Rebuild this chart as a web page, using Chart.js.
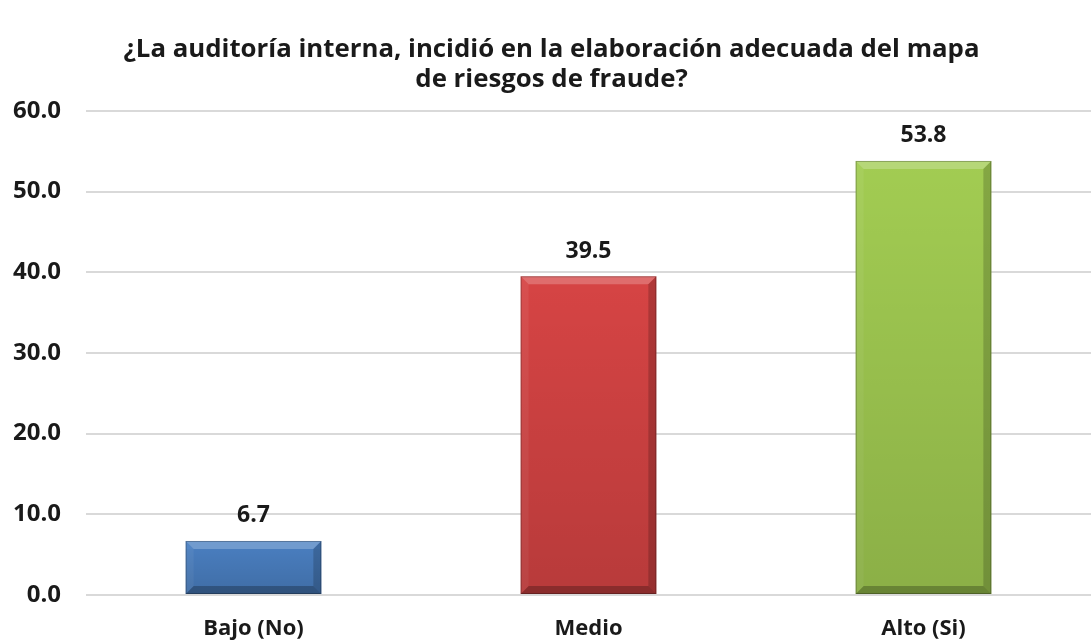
<!DOCTYPE html>
<html>
<head>
<meta charset="utf-8">
<script src="https://cdn.jsdelivr.net/npm/chart.js@4/dist/chart.umd.min.js"></script>
<style>
  html, body { margin: 0; padding: 0; background: #fff; }
  #wrap { width: 1091px; height: 643px; }
</style>
</head>
<body>
<div id="wrap"><canvas id="grafico"></canvas></div>
<script>
const categorias = ['Bajo (No)', 'Medio', 'Alto (Si)'];
const valores = [6.7, 39.5, 53.8];
const colores = ['#4a7fc1', '#d64444', '#a2cc52'];
const tituloLineas = ['¿La auditoría interna, incidió en la elaboración adecuada del mapa', 'de riesgos de fraude?'];

const fuente = "'Open Sans', 'DejaVu Sans', sans-serif";

// efecto biselado sobre cada barra
const bisel = {
  id: 'bisel',
  afterDatasetsDraw(chart) {
    const ctx = chart.ctx;
    const meta = chart.getDatasetMeta(0);
    meta.data.forEach((bar, i) => {
      const l = bar.x - bar.width / 2, r = bar.x + bar.width / 2;
      const t = bar.y, b = bar.base;
      const s = Math.min(8, (b - t) / 2);
      ctx.save();
      // arriba claro
      ctx.fillStyle = 'rgba(255,255,255,0.22)';
      ctx.beginPath();
      ctx.moveTo(l, t); ctx.lineTo(r, t); ctx.lineTo(r - s, t + s); ctx.lineTo(l + s, t + s); ctx.closePath(); ctx.fill();
      // izquierda
      ctx.fillStyle = 'rgba(255,255,255,0.06)';
      ctx.beginPath();
      ctx.moveTo(l, t); ctx.lineTo(l + s, t + s); ctx.lineTo(l + s, b - s); ctx.lineTo(l, b); ctx.closePath(); ctx.fill();
      // derecha oscura
      ctx.fillStyle = 'rgba(0,0,0,0.18)';
      ctx.beginPath();
      ctx.moveTo(r, t); ctx.lineTo(r - s, t + s); ctx.lineTo(r - s, b - s); ctx.lineTo(r, b); ctx.closePath(); ctx.fill();
      // abajo oscura
      ctx.fillStyle = 'rgba(0,0,0,0.25)';
      ctx.beginPath();
      ctx.moveTo(l, b); ctx.lineTo(l + s, b - s); ctx.lineTo(r - s, b - s); ctx.lineTo(r, b); ctx.closePath(); ctx.fill();
      // degradado vertical suave
      const g = ctx.createLinearGradient(0, t, 0, b);
      g.addColorStop(0, 'rgba(0,0,0,0)');
      g.addColorStop(1, 'rgba(0,0,0,0.14)');
      ctx.fillStyle = g;
      ctx.fillRect(l, t + s, r - l, b - t - s);
      ctx.strokeStyle = 'rgba(0,0,0,0.25)';
      ctx.lineWidth = 1;
      ctx.strokeRect(l + 0.5, t + 0.5, r - l - 1, b - t - 1);
      ctx.restore();

      // etiqueta de valor
      ctx.save();
      ctx.font = 'bold 23px ' + fuente;
      ctx.fillStyle = '#1a1a1a';
      ctx.textAlign = 'center';
      ctx.textBaseline = 'middle';
      ctx.fillText(valores[i].toFixed(1), bar.x, t - 25);
      ctx.restore();
    });
  }
};

function dibujar() {
  new Chart(document.getElementById('grafico'), {
    type: 'bar',
    data: {
      labels: categorias,
      datasets: [{
        data: valores,
        backgroundColor: colores,
        borderWidth: 0,
        categoryPercentage: 1,
        barPercentage: 0.405
      }]
    },
    options: {
      responsive: true,
      maintainAspectRatio: false,
      animation: false,
      layout: { padding: { top: 34, right: 0, left: 12, bottom: 0 } },
      plugins: {
        legend: { display: false },
        tooltip: { enabled: false },
        title: {
          display: true,
          text: tituloLineas,
          color: '#1a1a1a',
          font: { family: fuente, size: 25.8, weight: 'bold', lineHeight: 1.18 },
          padding: { top: 0, bottom: 16 }
        }
      },
      scales: {
        x: {
          grid: { display: false },
          border: { display: false },
          afterFit: scale => { scale.height = 48; },
          ticks: {
            color: '#1a1a1a',
            font: { family: fuente, size: 22, weight: 'bold' },
            padding: 13
          }
        },
        y: {
          min: 0,
          max: 60,
          border: { display: false },
          grid: { color: '#d9d9d9', lineWidth: 2, drawTicks: false },
          afterFit: scale => { scale.width = 74; },
          ticks: {
            stepSize: 10,
            color: '#1a1a1a',
            font: { family: fuente, size: 24, weight: 'bold' },
            padding: 25,
            callback: v => v.toFixed(1)
          }
        }
      }
    },
    plugins: [bisel]
  });
}

Promise.all([
  document.fonts.load("bold 24px 'Open Sans'"),
  document.fonts.load("bold 22px 'Open Sans'")
]).then(dibujar, dibujar);
</script>
</body>
</html>
